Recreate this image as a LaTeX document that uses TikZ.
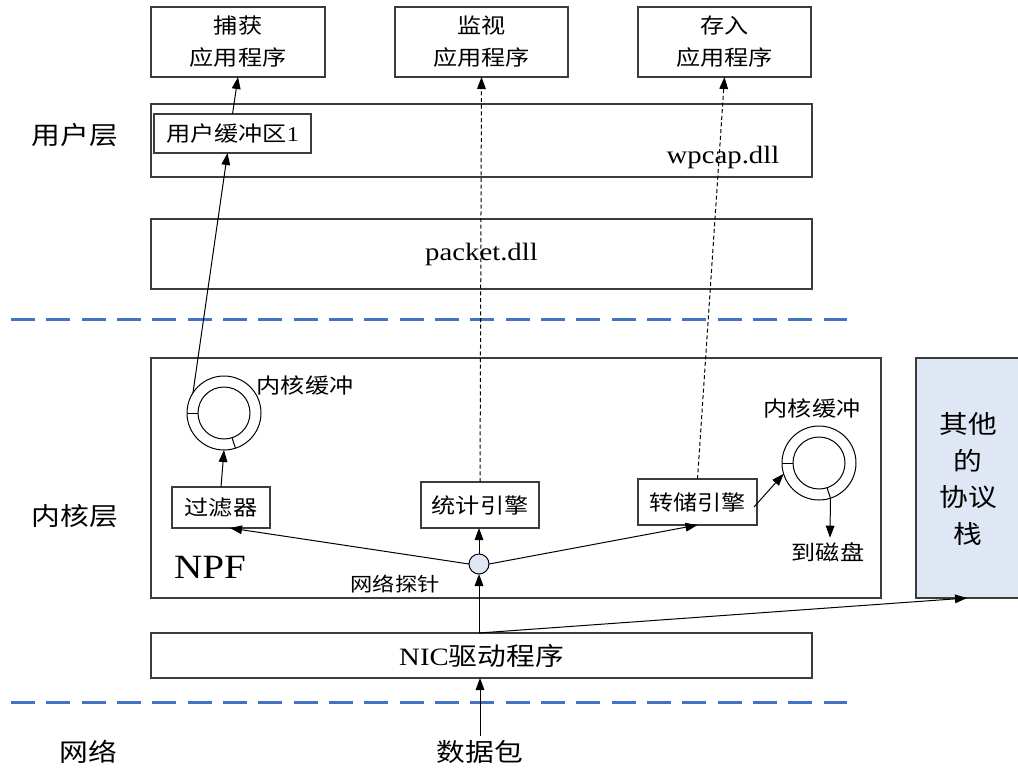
\documentclass[tikz,border=0pt]{standalone}
\usepackage{graphicx}
\usepackage{fontspec}
\setmainfont{Liberation Serif}
\newfontfamily\cjk{Noto Sans CJK SC}
\usetikzlibrary{arrows.meta,calc}
\definecolor{sepblue}{RGB}{68,114,196}
\definecolor{lightfill}{RGB}{222,231,243}
\definecolor{boxline}{RGB}{60,60,60}
\newcommand{\sx}[1]{\scalebox{1.15}[1]{#1}}
\tikzset{
  bx/.style={draw=boxline, line width=1pt, inner sep=0pt, outer sep=0pt, anchor=north west, align=center},
  big/.style={font=\fontsize{18.75}{27.5}\selectfont\cjk},
  med/.style={font=\fontsize{15.75}{24}\selectfont\cjk},
  sml/.style={font=\fontsize{14.5}{18}\selectfont\cjk},
  arr/.style={-{Triangle[length=9pt,width=6.5pt]}, line width=0.75pt},
  darr/.style={arr, dash pattern=on 3pt off 2pt},
  sepline/.style={draw=sepblue, line width=2.25pt, dash pattern=on 18pt off 8.5pt},
  ring/.style={circle, draw, line width=0.75pt, inner sep=0pt, outer sep=0pt},
}
\begin{document}
\begin{tikzpicture}[x=0.75pt,y=-0.75pt]
\useasboundingbox (0,0) rectangle (1018,769);
\clip (0,0) rectangle (1018,769);

% separators
\coordinate (s1a) at (11,319); \coordinate (s1b) at (847,319);
\coordinate (s2a) at (11,702); \coordinate (s2b) at (847,702);
\draw[sepline] (s1a) -- (s1b);
\draw[sepline] (s2a) -- (s2b);

% layer labels
\node[big] (lu) at (75,135) {\sx{用户层}};
\node[big] (lk) at (75,516) {\sx{内核层}};
\node[big] (ln) at (88,752) {\sx{网络}};
\node[big] (pkt) at (480,752) {\sx{数据包}};

% top application boxes
\node[bx, med, minimum width=130.5pt, minimum height=52.5pt] (cap) at (151,7) {\sx{捕获}\\\sx{应用程序}};
\node[bx, med, minimum width=129.75pt, minimum height=52.5pt] (mon) at (395,7) {\sx{监视}\\\sx{应用程序}};
\node[bx, med, minimum width=129.75pt, minimum height=52.5pt] (sto) at (638,7) {\sx{存入}\\\sx{应用程序}};

% user layer
\node[bx, minimum width=495.75pt, minimum height=54.75pt] (user) at (151,104) {};
\node[bx, med, minimum width=117.75pt, minimum height=29.25pt] (ubuf) at (154,114) {\sx{用户缓冲区{\rmfamily 1}}};
\node[font=\fontsize{18.75}{22}\selectfont] (wpcap) at (723,157) {\sx{wpcap.dll}};

\node[bx, font=\fontsize{18.75}{22}\selectfont, minimum width=495.75pt, minimum height=52.5pt] (packet) at (151,219) {\sx{packet.dll}};

% kernel
\node[bx, minimum width=547.5pt, minimum height=180pt] (npf) at (151,358) {};
\node[bx, big, fill=lightfill, minimum width=84pt, minimum height=180pt] (other) at (916,358) {};
\node[big, align=center] (othert) at (968,479) {\sx{其他}\\\sx{的}\\\sx{协议}\\\sx{栈}};
\node[font=\fontsize{25.5}{28}\selectfont] (npft) at (210,567) {\sx{NPF}};

\node[bx, med, minimum width=73.5pt, minimum height=30.75pt] (filt) at (172,487) {\sx{过滤器}};
\node[bx, med, minimum width=88.5pt, minimum height=34.5pt] (stat) at (421,482) {\sx{统计引擎}};
\node[bx, med, minimum width=89.25pt, minimum height=34.5pt] (dump) at (638,479) {\sx{转储引擎}};

% ring buffers
\node[ring, minimum size=55.5pt] (ringL) at (224,413) {};
\node[ring, minimum size=39pt] (ringLi) at (224,413) {};
\draw[line width=0.75pt] (ringLi.180) -- (ringL.180);
\draw[line width=0.75pt] (ringLi.-72) -- (ringL.-72);
\node[med] (kbL) at (305,385) {\sx{内核缓冲}};

\node[ring, minimum size=55.5pt] (ringR) at (819,463) {};
\node[ring, minimum size=39pt] (ringRi) at (819,463) {};
\draw[line width=0.75pt] (ringRi.180) -- (ringR.180);
\draw[line width=0.75pt] (ringRi.-72) -- (ringR.-72);
\node[med] (kbR) at (812,408) {\sx{内核缓冲}};
\node[med] (disk) at (828,552) {\sx{到磁盘}};

% probe
\node[circle, draw, fill=lightfill, line width=0.75pt, minimum size=15pt, inner sep=0pt, outer sep=0pt] (probe) at (479,564) {};
\node[sml] (probet) at (395,584) {\sx{网络探针}};

% NIC
\node[bx, big, minimum width=495.75pt, minimum height=33.75pt] (nic) at (151,633) {\sx{{\rmfamily NIC}驱动程序}};

% connectors
\coordinate (nicp) at (probe.south |- nic.north);
\coordinate (otherin) at (967,598);
\draw[arr] (pkt.north) -- (pkt.north |- nic.south);
\draw[arr] (nicp) -- (probe.south);
\draw[arr] (nicp) -- (otherin);
\draw[arr] (probe.west) -- ($(filt.south)+(9,0)$);
\draw[arr] (probe.east) -- (dump.south);
\draw[arr] (probe.north) -- (probe.north |- stat.south);
\draw[arr] (filt.north) -- (ringL.south);
\draw[arr] (ringL.147) -- ($(ubuf.south)+(-5,0)$);
\draw[arr] (ubuf.north) -- (cap.south);
\draw[darr] (stat.north) -- (mon.south);
\draw[darr] (dump.north) -- (sto.south);
\draw[arr] ($(dump.east)+(-3,5)$) -- (ringR.197);
\draw[arr] (ringR.-72) -- ($(disk.north)+(2,0)$);
\end{tikzpicture}
\end{document}
